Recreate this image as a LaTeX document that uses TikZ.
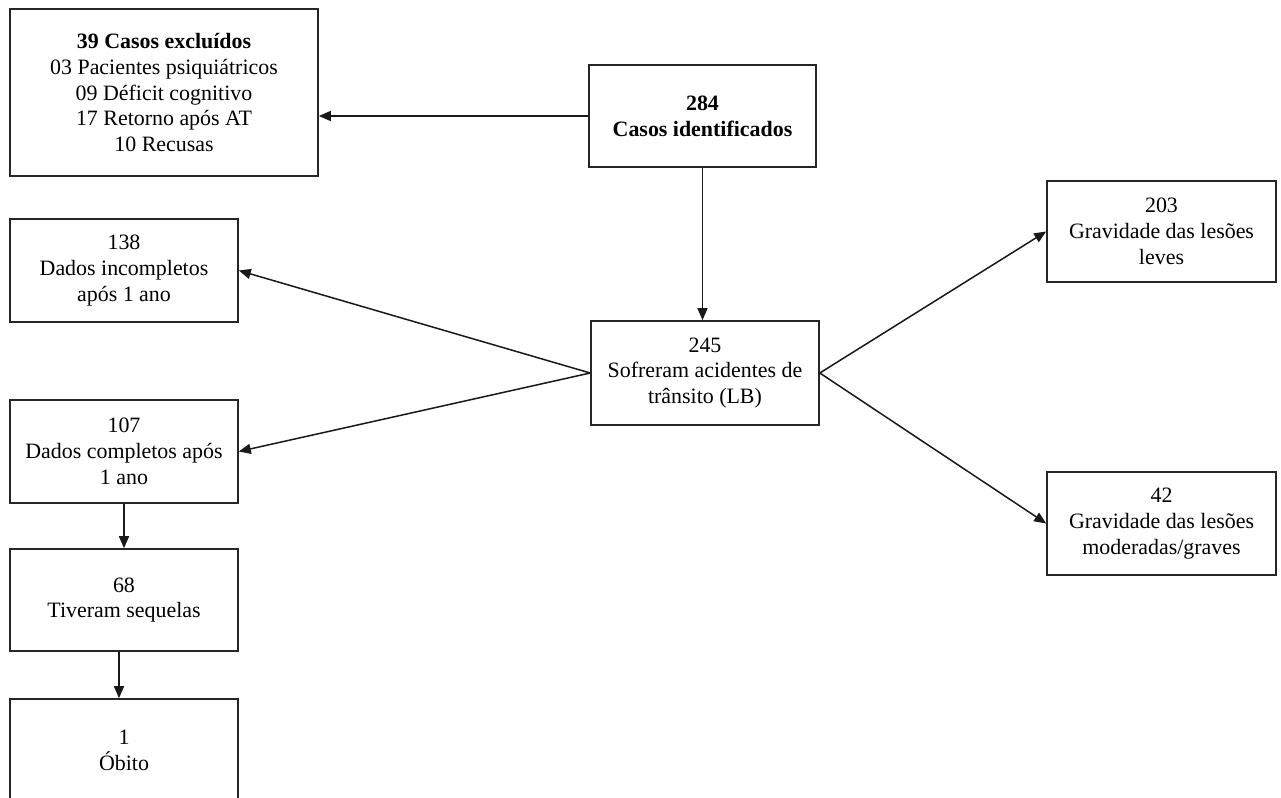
\documentclass[tikz,border=0pt]{standalone}
\usepackage{fontspec}
\setmainfont{Liberation Serif}
\usetikzlibrary{arrows.meta}
\begin{document}
\begin{tikzpicture}[x=1bp,y=-1bp,
  box/.style={draw=black!85,line width=1.6bp,rectangle,inner sep=0pt,align=center,
    font=\fontsize{22}{26}\selectfont,text=black},
  arr/.style={draw=black!90,line width=1.5bp,-{Triangle[length=12bp,width=10bp]}}]
\useasboundingbox (0,0) rectangle (1281,798);
\clip (0,0) rectangle (1281,798);
\fill[white] (0,0) rectangle (1281,798);
\node[box,minimum width=308bp,minimum height=167bp] (excl) at (164,92.5)
  {\textbf{39 Casos excluídos}\\03 Pacientes psiquiátricos\\09 Déficit cognitivo\\17 Retorno após AT\\10 Recusas};
\node[box,minimum width=227bp,minimum height=102bp] (c284) at (702.5,116)
  {\textbf{284}\\\textbf{Casos identificados}};
\node[box,minimum width=228bp,minimum height=104bp] (c245) at (705,373)
  {245\\Sofreram acidentes de\\trânsito (LB)};
\node[box,minimum width=228bp,minimum height=103bp] (c138) at (124,270.5)
  {138\\Dados incompletos\\após 1 ano};
\node[box,minimum width=228bp,minimum height=103bp] (c107) at (124,451.5)
  {107\\Dados completos após\\1 ano};
\node[box,minimum width=228bp,minimum height=102bp] (c68) at (124,600)
  {68\\Tiveram sequelas};
\node[box,minimum width=228bp,minimum height=102bp] (obito) at (124,750)
  {1\\Óbito};
\node[box,minimum width=229bp,minimum height=101bp] (c203) at (1161.5,231.5)
  {203\\Gravidade das lesões\\leves};
\node[box,minimum width=229bp,minimum height=103bp] (c42) at (1161.5,523.5)
  {42\\Gravidade das lesões\\moderadas/graves};
\draw[arr] (c284.west) -- (c284.west -| excl.east);
\draw[arr] (c284.south) -- (c284.south |- c245.north);
\draw[arr] (c245.west) -- (c138.east);
\draw[arr] (c245.west) -- (c107.east);
\draw[arr] (c245.east) -- (c203.west);
\draw[arr] (c245.east) -- (c42.west);
\draw[arr] (c107.south) -- (c68.north);
\draw[arr] ([xshift=-5bp]c68.south) -- ([xshift=-5bp]c68.south |- obito.north);
\end{tikzpicture}
\end{document}
